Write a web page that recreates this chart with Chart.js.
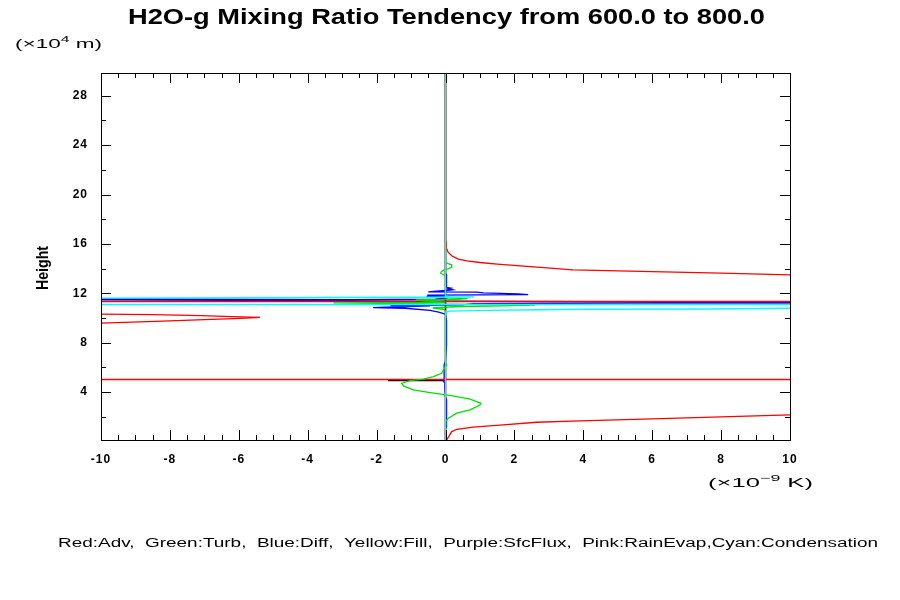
<!DOCTYPE html>
<html><head><meta charset="utf-8">
<script src="https://cdn.jsdelivr.net/npm/chart.js@4.4.1/dist/chart.umd.min.js"></script>
<style>html,body{margin:0;padding:0;background:#fff;}</style>
</head><body>
<canvas id="c" width="900" height="600"></canvas>
<script>
// ---- data (height in 10^4 m, tendency in 10^-9 K) ----
const advHeights = [0.1,0.15,0.4,0.78,0.97,1.14,1.32,1.54,1.65,1.81,1.97,2.13,2.3,2.6,3.5,5.004,5.0045,7.0,9.0,9.4,9.57,9.65,9.75,9.86,9.94,10.0,10.04,10.1,10.18,10.26,10.3,10.35,10.8,11.0,11.326,11.328,12.0,13.0,13.3,13.49,13.62,13.75,13.89,14.03,14.22,14.36,14.49,14.62,14.76,15.03,15.3,15.57,16.2,16.25,29.85];
const advValues  = [0.0,0.04,0.1,0.18,0.33,0.8,1.67,2.65,3.9,6.0,8.0,10.0,13,20,40,60,-60,-60,-40,-16,-10,-9.1,-8.0,-7.0,-6.15,-5.65,-5.38,-6.2,-7.1,-8.5,-10,-13,-40,-60,-60,60,60,25,14,10,8,6,3.7,3.04,2.17,1.5,1.0,0.62,0.37,0.18,0.08,0.04,0.02,0,0];

const turbHeights = [0.1,1.5,1.59,1.87,2.27,2.54,2.94,3.08,3.41,3.62,3.75,3.94,4.16,4.48,4.7,4.91,5.03,5.24,5.51,6.05,6.19,6.3,10.6,10.7,10.8,10.86,10.92,10.97,11.04,11.22,11.25,11.45,11.5,11.56,11.62,13.4,13.5,13.62,13.75,13.9,14.0,14.1,14.3,14.4,14.5,29.85];
const turbValues  = [0,0,0.01,0.08,0.33,0.71,1.0,1.02,0.71,0.33,0.03,-0.45,-0.93,-1.22,-1.27,-1.03,-0.64,-0.35,-0.11,0,0.03,0,0,-0.08,-0.37,0,0.45,1.6,2.6,-3.25,0,-0.86,0.33,0.64,0,0,-0.06,-0.14,-0.12,-0.04,0.1,0.17,0.18,0.08,0,0];

const diffHeights = [0.1,1.0,1.16,3.35,3.6,4.2,4.7,4.95,5.0,5.1,6.2,6.5,7.8,9.8,10.3,10.46,10.6,10.78,10.83,10.9,10.97,11.0,11.05,11.15,11.2,11.22,10.70,12.01,11.47,11.52,11.6,11.72,11.75,11.78,11.84,11.88,11.95,12.02,12.08,12.11,12.17,12.22,12.28,12.36,12.42,12.48,13.5,13.6,29.85];
const diffValues  = [0,0,0.03,0.03,0,-0.02,-0.02,-0.08,0,-0.04,-0.04,0,0.03,0.03,0,-0.2,-0.45,-1.17,-2.1,-1.3,-0.45,-1.6,0.5,0.8,5.5,60,60,-60,-2.8,-0.3,0,-0.1,-0.55,0,-0.53,2.4,2.1,1.1,0.9,-0.5,-0.26,0,0.2,0.06,0.15,0.03,0.03,0,0];

const fillHeights = [0.1,29.85];      const fillValues = [0,0];
const sfcHeights = [0.1,29.85];       const sfcValues = [0,0];
const evapHeights = [0.1,29.85];      const evapValues = [0,0];

const condHeights = [0.1,10.45,10.55,10.6,10.66,10.7,10.72,10.78,10.85,11.0,11.083,11.085,11.55,11.6,11.67,11.69,11.73,11.78,29.85];
const condValues  = [0,0,0.13,1.2,2.75,3.9,7.6,10,25,60,60,-60,-60,-10,-1,0.8,0.1,0,0];

const totalHeights = [0.1,4.9,4.918,4.921,4.925,5.0,29.85];
const totalValues  = [0,0,-0.05,-1.67,-0.05,0,0];

const xTickLabels = [-10,-8,-6,-4,-2,0,2,4,6,8,10];
const yTickLabels = [4,8,12,16,20,24,28];

function pts(hs, vs){ return hs.map((h,i)=>({x:vs[i], y:h})); }
function ds(label, hs, vs, color){
  return {label, data:pts(hs,vs), borderColor:color, backgroundColor:color,
          showLine:true, pointRadius:0, borderWidth:1.3, tension:0, fill:false};
}

const FONT = "'Liberation Sans', Arial, Helvetica, sans-serif";

function drawGroup(ctx, pieces, x, y, targetW, align){
  let w = 0;
  pieces.forEach(p=>{ ctx.font = (p.weight||'normal')+' '+p.size+'px '+FONT; p.w = ctx.measureText(p.t).width; w += p.w; });
  const sx = targetW ? targetW / w : 1;
  ctx.save();
  let x0 = x;
  if (align==='center') x0 = x - w*sx/2;
  ctx.translate(x0, y);
  ctx.scale(sx, 1);
  ctx.textAlign = 'left'; ctx.textBaseline = 'alphabetic'; ctx.fillStyle = '#000';
  let cx = 0;
  pieces.forEach(p=>{ ctx.font = (p.weight||'normal')+' '+p.size+'px '+FONT; ctx.fillText(p.t, cx, p.dy||0); cx += p.w; });
  ctx.restore();
}

const framePlugin = {
  id:'frame',
  beforeDraw(chart){ chart.ctx.letterSpacing = '1px'; },
  afterDraw(chart){
    const ctx = chart.ctx, a = chart.chartArea, xs = chart.scales.x, ys = chart.scales.y;
    ctx.save();
    ctx.letterSpacing = '0px';
    ctx.strokeStyle = '#000'; ctx.lineWidth = 1;
    ctx.beginPath();
    for (let k = -20; k <= 20; k++) {
      const v = k/2;
      const px = Math.round(xs.getPixelForValue(v)) + 0.5;
      const L = (k % 4 === 0) ? 10 : 5;
      ctx.moveTo(px, a.bottom); ctx.lineTo(px, a.bottom - L);
      ctx.moveTo(px, a.top); ctx.lineTo(px, a.top + L);
    }
    for (let v = 2; v <= 28; v += 2) {
      const py = Math.round(ys.getPixelForValue(v)) + 0.5;
      const L = (v % 4 === 0) ? 10 : 5;
      ctx.moveTo(a.left, py); ctx.lineTo(a.left + L, py);
      ctx.moveTo(a.right, py); ctx.lineTo(a.right - L, py);
    }
    ctx.stroke();
    ctx.strokeRect(Math.round(a.left)+0.5, Math.round(a.top)+0.5, Math.round(a.right-a.left), Math.round(a.bottom-a.top));
    ctx.restore();

    ctx.save();
    ctx.letterSpacing = '0px';
    drawGroup(ctx, [{t:'H2O-g Mixing Ratio Tendency from 600.0 to 800.0', size:22, weight:'bold'}], 446.5, 24, 637, 'center');
    drawGroup(ctx, [{t:'(\u00d710', size:13},{t:'4', size:9, dy:-6},{t:' m)', size:13}], 15, 48, 87, 'left');
    drawGroup(ctx, [{t:'(\u00d710', size:13},{t:'\u22129', size:9, dy:-6},{t:' K)', size:13}], 708, 487, 105, 'left');
    drawGroup(ctx, [{t:'Red:Adv,  Green:Turb,  Blue:Diff,  Yellow:Fill,  Purple:SfcFlux,  Pink:RainEvap,Cyan:Condensation', size:12}], 58, 547, 820, 'left');
    ctx.save();
    ctx.translate(48, 268);
    ctx.rotate(-Math.PI/2);
    drawGroup(ctx, [{t:'Height', size:17, weight:'bold'}], 0, 0, 44, 'center');
    ctx.restore();
    ctx.restore();
  }
};

const tickFont = {family: FONT, size: 12, weight: 'bold'};

new Chart(document.getElementById('c').getContext('2d'), {
  type: 'scatter',
  data: { datasets: [
    ds('Condensation', condHeights, condValues, '#00ffff'),
    ds('Turb', turbHeights, turbValues, '#00e000'),
    ds('Adv', advHeights, advValues, '#ff0000'),
    ds('Diff', diffHeights, diffValues, '#0000ff'),
    ds('Total', totalHeights, totalValues, '#000000'),
    ds('Fill', fillHeights, fillValues, '#e6dc32'),
    ds('SfcFlux', sfcHeights, sfcValues, '#a000c8'),
    ds('RainEvap', evapHeights, evapValues, '#f08228')
  ]},
  options: {
    responsive: false, animation: false, devicePixelRatio: 1,
    layout: { padding: { left: 0, top: 73, right: 110, bottom: 130 } },
    plugins: { legend: {display:false}, tooltip: {enabled:false}, title: {display:false} },
    scales: {
      x: { type:'linear', min:-10, max:10,
           afterFit: s => { s.height = 30; },
           afterBuildTicks: s => { s.ticks = xTickLabels.map(v => ({value:v})); },
           grid: {display:false, drawTicks:false}, border: {display:false},
           ticks: { padding: 12, font: tickFont, color:'#000', maxRotation:0, autoSkip:false, callback: v => String(v) } },
      y: { type:'linear', min:0.1, max:29.85,
           afterFit: s => { s.width = 101; },
           afterBuildTicks: s => { s.ticks = yTickLabels.map(v => ({value:v})); },
           grid: {display:false, drawTicks:false}, border: {display:false},
           ticks: { padding: 13, font: tickFont, color:'#000', autoSkip:false, callback: v => String(v) } }
    }
  },
  plugins: [framePlugin]
});
</script>
</body></html>
